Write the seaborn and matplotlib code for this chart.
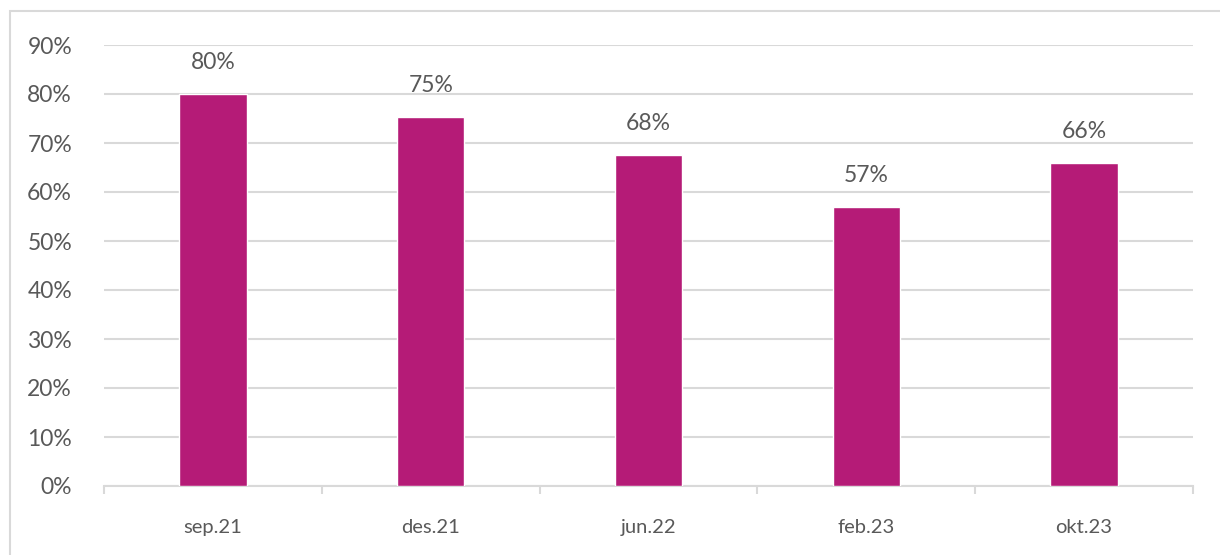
import matplotlib.pyplot as plt
import matplotlib.patches as mpatches
from matplotlib.ticker import FixedLocator, PercentFormatter
import pandas as pd
import seaborn as sns

periods = ["sep.21", "des.21", "jun.22", "feb.23", "okt.23"]
shares = [80.0, 75.3, 67.6, 56.9, 65.9]
labels = ["80%", "75%", "68%", "57%", "66%"]

df = pd.DataFrame({"period": periods, "share": shares})

sns.set_style("white")
plt.rcParams["font.family"] = ["Lato", "DejaVu Sans"]
text_col = "#595959"
grid_col = "#D9D9D9"

fig = plt.figure(figsize=(12.2, 5.55), dpi=100)
ax = fig.add_axes([104 / 1220, 1 - 486 / 555, (1193 - 104) / 1220, (486 - 45) / 555])

# outer frame
fig.patches.append(mpatches.Rectangle((10 / 1220, -0.1), 1.2, 1 - 11 / 555 + 0.1,
                                      transform=fig.transFigure, fill=False,
                                      edgecolor=grid_col, linewidth=1.5))

sns.barplot(data=df, x="period", y="share", color="#B51B77", width=0.31,
            saturation=1, ax=ax, zorder=3)

ax.set_ylim(0, 90)
ax.set_xlim(-0.5, len(periods) - 0.5)
ax.set_yticks(range(0, 91, 10))
ax.yaxis.set_major_formatter(PercentFormatter(decimals=0))
ax.yaxis.grid(True, color=grid_col, linewidth=1.5, zorder=0)
ax.set_axisbelow(True)

for i, (v, lab) in enumerate(zip(shares, labels)):
    ax.annotate(lab, (i, v), xytext=(0, 22.5), textcoords="offset points",
                ha="center", va="center", fontsize=16.5, color=text_col)

for s in ["top", "right", "left"]:
    ax.spines[s].set_visible(False)
ax.spines["bottom"].set_color(grid_col)
ax.spines["bottom"].set_linewidth(1.5)

ax.xaxis.set_major_locator(FixedLocator(range(len(periods))))
ax.set_xticklabels(periods)
ax.xaxis.set_minor_locator(FixedLocator([i - 0.5 for i in range(len(periods) + 1)]))
ax.tick_params(axis="x", which="major", length=0, pad=24, labelsize=14.5,
               labelcolor=text_col)
ax.tick_params(axis="x", which="minor", length=6, width=1.5, color=grid_col,
               direction="out", bottom=True)
ax.tick_params(axis="y", length=0, pad=23, labelsize=16.5, labelcolor=text_col)

ax.set_xlabel("")
ax.set_ylabel("")

fig.savefig("out.png", dpi=100)
